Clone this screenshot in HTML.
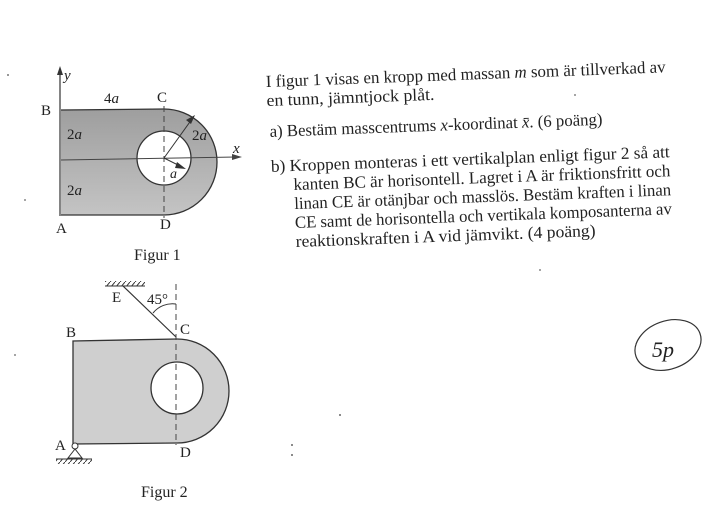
<!DOCTYPE html>
<html><head><meta charset="utf-8"><style>
html,body{margin:0;padding:0;background:#fff;}
svg{display:block;}
text{font-family:"Liberation Serif",serif;fill:#222;}
</style></head><body>
<svg width="716" height="510" viewBox="0 0 716 510" xmlns="http://www.w3.org/2000/svg">
<defs>
<pattern id="hatch" width="5" height="6" patternUnits="userSpaceOnUse"><line x1="5" y1="0" x2="0" y2="6" stroke="#333" stroke-width="1"/></pattern>
<linearGradient id="g1" x1="0" y1="0" x2="0" y2="1"><stop offset="0" stop-color="#9e9e9e"/><stop offset="1" stop-color="#c4c4c4"/></linearGradient>
</defs>

<!-- Figure 1 -->
<path d="M61,110 L164,109 A53,53 0 0 1 164,215 L61,215 Z" fill="url(#g1)"/>
<path d="M61,110 L164,109 A53,53 0 0 1 164,215 L61,215" fill="none" stroke="#333" stroke-width="1.3"/>
<circle cx="164" cy="158" r="27" fill="#fff" stroke="#333" stroke-width="1.3"/>
<line x1="60" y1="216" x2="60" y2="72" stroke="#333" stroke-width="1.2"/>
<polygon points="60,66 57,75 63,75" fill="#333"/>
<line x1="61" y1="160" x2="236" y2="157" stroke="#444" stroke-width="1"/>
<polygon points="242,157 232,154 232,160" fill="#444"/>
<line x1="164" y1="106" x2="164" y2="218" stroke="#444" stroke-width="1" stroke-dasharray="6,4"/>
<line x1="164" y1="158" x2="192" y2="119" stroke="#333" stroke-width="1"/>
<polygon points="195,115 186,120 191,124" fill="#333"/>
<line x1="164" y1="158" x2="182" y2="167" stroke="#333" stroke-width="1"/>
<polygon points="186,169 177,162 175,168" fill="#333"/>
<text x="64" y="80" font-size="15" font-style="italic">y</text>
<text x="41" y="115" font-size="15">B</text>
<text x="104" y="103" font-size="15">4<tspan font-style="italic">a</tspan></text>
<text x="157" y="102" font-size="15">C</text>
<text x="67" y="139" font-size="15">2<tspan font-style="italic">a</tspan></text>
<text x="192" y="140" font-size="15">2<tspan font-style="italic">a</tspan></text>
<text x="233" y="153" font-size="15" font-style="italic">x</text>
<text x="170" y="178" font-size="14" font-style="italic">a</text>
<text x="67" y="195" font-size="15">2<tspan font-style="italic">a</tspan></text>
<text x="56" y="233" font-size="15">A</text>
<text x="160" y="229" font-size="15">D</text>
<text x="134" y="260" font-size="16">Figur 1</text>

<!-- Figure 2 -->
<rect x="105" y="281" width="40" height="5" fill="url(#hatch)"/>
<line x1="105" y1="286" x2="145" y2="286" stroke="#333" stroke-width="1"/>
<line x1="123" y1="286" x2="176" y2="337" stroke="#333" stroke-width="1.2"/>
<path d="M73,341 L177,339 A52,52 0 0 1 177,443 L73,444 Z" fill="#cfcfcf"/>
<path d="M73,444 L73,341 L177,339 A52,52 0 0 1 177,443 L73,444" fill="none" stroke="#333" stroke-width="1.3"/>
<circle cx="177" cy="388" r="26" fill="#fff" stroke="#333" stroke-width="1.3"/>
<line x1="176" y1="284" x2="176" y2="445" stroke="#444" stroke-width="1" stroke-dasharray="6,4"/>
<path d="M153,313 A25,25 0 0 1 176,304" fill="none" stroke="#333" stroke-width="1"/>
<circle cx="75" cy="446" r="3" fill="#fff" stroke="#333"/>
<polygon points="75,449 68,458 82,458" fill="none" stroke="#333"/>
<rect x="56" y="459" width="36" height="5" fill="url(#hatch)"/>
<line x1="56" y1="459" x2="92" y2="459" stroke="#333"/>
<text x="112" y="302" font-size="15">E</text>
<text x="147" y="304" font-size="15">45°</text>
<text x="180" y="334" font-size="15">C</text>
<text x="66" y="337" font-size="15">B</text>
<text x="55" y="450" font-size="15">A</text>
<text x="180" y="457" font-size="15">D</text>
<text x="141" y="497" font-size="16">Figur 2</text>

<!-- Text block -->
<g transform="rotate(-2.1 266 87)" font-size="17">
<text x="266" y="87" textLength="400" lengthAdjust="spacingAndGlyphs">I figur 1 visas en kropp med massan <tspan font-style="italic">m</tspan> som är tillverkad av</text>
<text x="266" y="106" textLength="168" lengthAdjust="spacingAndGlyphs">en tunn, jämntjock plåt.</text>
<text x="268" y="137" textLength="333" lengthAdjust="spacingAndGlyphs">a)  Bestäm masscentrums <tspan font-style="italic">x</tspan>-koordinat <tspan font-style="italic">x̄</tspan>. (6 poäng)</text>
<text x="268" y="172" textLength="399" lengthAdjust="spacingAndGlyphs">b)  Kroppen monteras i ett vertikalplan enligt figur 2 så att</text>
<text x="290" y="191" textLength="377" lengthAdjust="spacingAndGlyphs">kanten BC är horisontell. Lagret i A är friktionsfritt och</text>
<text x="290" y="210" textLength="377" lengthAdjust="spacingAndGlyphs">linan CE är otänjbar och masslös. Bestäm kraften i linan</text>
<text x="290" y="229" textLength="377" lengthAdjust="spacingAndGlyphs">CE samt de horisontella och vertikala komposanterna av</text>
<text x="290" y="248" textLength="300" lengthAdjust="spacingAndGlyphs">reaktionskraften i A vid jämvikt. (4 poäng)</text>
</g>

<!-- 5p note -->
<ellipse cx="668" cy="345" rx="34" ry="24" fill="none" stroke="#333" stroke-width="1.2" transform="rotate(-20 668 345)"/>
<text x="652" y="357" font-size="22" font-style="italic" font-family="Liberation Sans">5p</text>

<!-- scan specks -->
<circle cx="8" cy="75" r="1" fill="#777"/><circle cx="25" cy="200" r="1" fill="#888"/>
<circle cx="15" cy="355" r="1" fill="#888"/><circle cx="340" cy="415" r="1" fill="#666"/>
<circle cx="292" cy="445" r="1" fill="#666"/><circle cx="292" cy="455" r="1" fill="#666"/>
<circle cx="540" cy="270" r="1" fill="#888"/><circle cx="575" cy="95" r="1" fill="#888"/>
</svg>
</body></html>
